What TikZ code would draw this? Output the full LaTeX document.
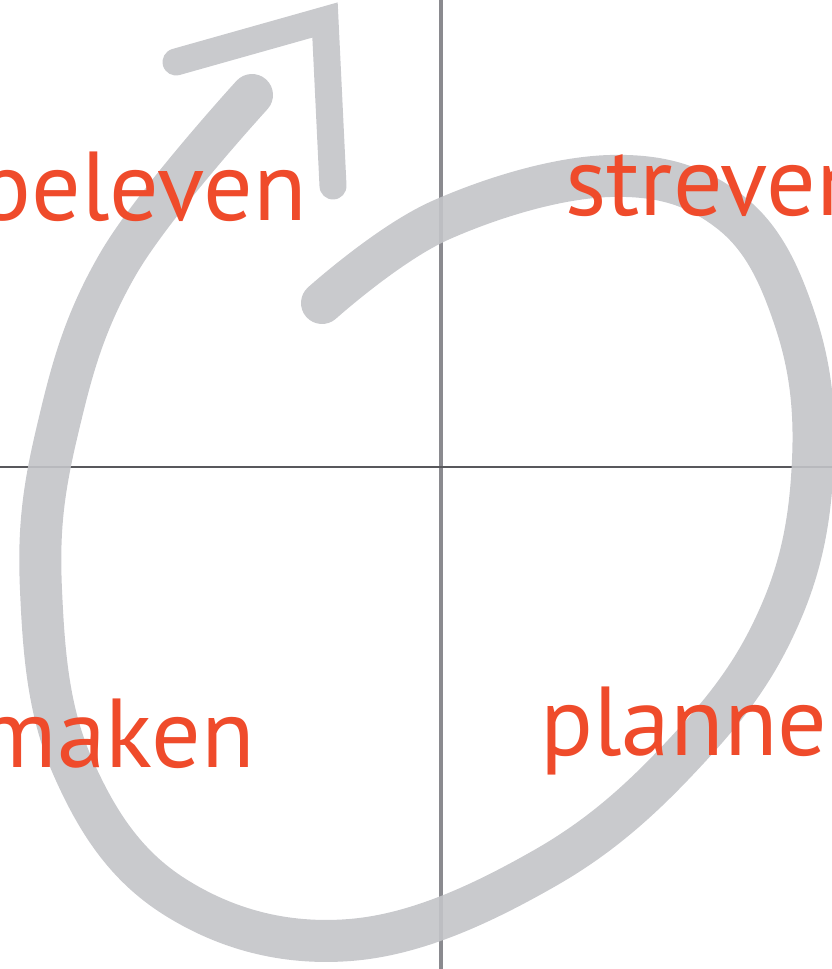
\documentclass[tikz,border=0pt]{standalone}
\usepackage{fontspec}
\setmainfont{PT Sans}
\definecolor{wordred}{HTML}{EF4B2B}
\definecolor{loopgray}{HTML}{C3C4C8}
\definecolor{vline}{HTML}{8A8A8F}
\definecolor{hline}{HTML}{58585C}
\tikzset{
  word/.style={text=wordred, font=\fontsize{98}{98}\selectfont, inner sep=0pt},
  loop/.style={draw=loopgray, line cap=round, line join=round},
}
\begin{document}
\begin{tikzpicture}[x=1pt,y=-1pt]
\useasboundingbox (0,0) rectangle (832,969);
\clip (0,0) rectangle (832,969);
% axes
\coordinate (vt) at (441,0);
\coordinate (vb) at (441,969);
\coordinate (hl) at (0,467);
\coordinate (hr) at (832,467);
\draw[vline, line width=4] (vt) -- (vb);
\draw[hline, line width=2] (hl) -- (hr);
% spiral
\begin{scope}[transparency group, opacity=0.9]
\draw[loop, line width=42] plot[smooth, tension=0.65] coordinates {
 (322,303) (441,220) (610,176) (730,212) (795,320) (813,460)
 (782,610) (692,745) (545,868) (350,940) (175,897) (72,765)
 (41,590) (57,432) (118,264) (252,95)};
% arrow head
\draw[loop, line width=27, line join=miter, miter limit=4] (176,62) -- (325,20) -- (333,186);
\end{scope}
% words
\node[word, anchor=base east] (beleven) at (307,220) {beleven};
\node[word, anchor=base west] (streven) at (565,215) {streven};
\node[word, anchor=base east] (maken) at (255,767) {maken};
\node[word, anchor=base west] (plannen) at (540,755) {plannen};
\end{tikzpicture}
\end{document}
